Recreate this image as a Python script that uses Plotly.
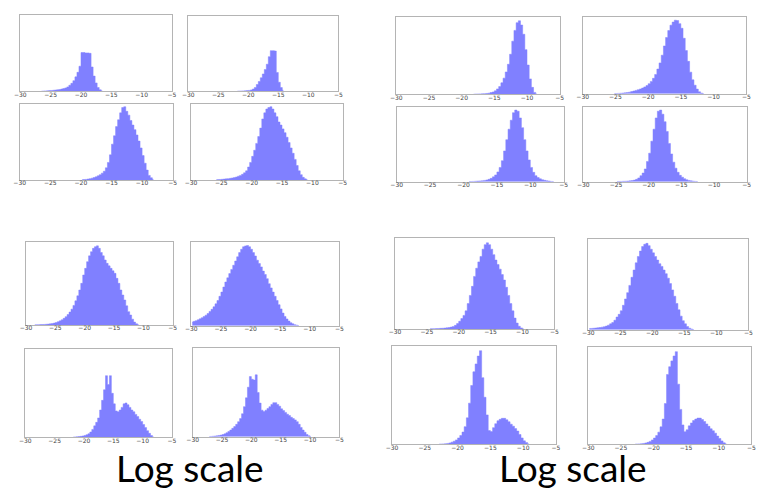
import plotly.graph_objects as go

W, H = 763, 490
tick_values = [-30, -25, -20, -15, -10, -5]
title_text = "Log scale"
bin_width = 1 / 3

# heights (fraction of panel height) of consecutive histogram bins, and left edge of first bin
p1_start = -26.67
p1_values = [.002,.003,.005,.007,.009,.011,.014,.017,.02,.024,.03,.036,.045,.058,.08,.105,.14,.19,.25,.33,.51,.51,.505,.505,.50,.32,.2,.11,.05,.02,.006]
p2_start = -22
p2_values = [.002,.003,.004,.005,.007,.009,.012,.018,.03,.05,.09,.13,.18,.23,.29,.36,.46,.54,.54,.535,.25,.12,.05,.015]
p3_start = -20
p3_values = [.003,.005,.008,.012,.017,.024,.032,.042,.055,.07,.09,.115,.16,.23,.33,.47,.58,.70,.79,.88,.95,.96,.90,.85,.78,.72,.66,.59,.51,.42,.32,.22,.13,.06,.03,.01]
p4_start = -26
p4_values = [.003,.005,.007,.009,.012,.015,.018,.022,.027,.033,.04,.05,.06,.075,.095,.12,.17,.23,.31,.39,.48,.57,.68,.80,.88,.93,.95,.96,.93,.88,.83,.76,.72,.67,.62,.56,.49,.42,.35,.27,.19,.12,.07,.035,.015,.005]
p5_start = -18.33
p5_values = [.002,.003,.004,.005,.006,.008,.011,.015,.022,.03,.045,.07,.10,.15,.21,.29,.39,.52,.69,.83,.93,.955,.90,.78,.58,.38,.2,.09,.025,.005]
p6_start = -25.33
p6_values = [.002,.003,.004,.006,.008,.011,.015,.02,.027,.035,.043,.052,.062,.074,.088,.105,.13,.16,.2,.25,.32,.4,.5,.62,.73,.82,.89,.93,.955,.95,.91,.85,.72,.56,.42,.28,.18,.11,.06,.025,.008,.002]
p7_start = -19.33
p7_values = [.002,.003,.004,.006,.008,.01,.013,.017,.023,.032,.045,.065,.09,.13,.19,.28,.41,.56,.7,.82,.92,.955,.94,.85,.72,.56,.41,.29,.19,.125,.08,.055,.038,.026,.018,.012,.008,.004,.002]
p8_start = -25
p8_values = [.002,.003,.004,.005,.006,.008,.011,.015,.021,.032,.05,.08,.115,.17,.27,.38,.54,.7,.85,.94,.955,.9,.8,.67,.51,.37,.26,.18,.125,.085,.06,.04,.025,.017,.011,.007,.004,.002]
p9_start = -28.67
p9_values = [.002,.003,.004,.005,.006,.007,.009,.011,.014,.018,.023,.03,.04,.05,.063,.08,.1,.125,.155,.19,.235,.29,.35,.42,.5,.6,.68,.76,.83,.88,.92,.94,.95,.92,.87,.83,.78,.74,.71,.68,.65,.62,.56,.5,.42,.36,.3,.23,.16,.12,.07,.035,.015,.005]
p10_start = -30
p10_values = [.045,.052,.06,.07,.082,.095,.11,.125,.145,.17,.195,.225,.26,.3,.35,.4,.46,.52,.57,.62,.67,.72,.77,.82,.87,.91,.94,.95,.955,.94,.91,.87,.83,.78,.74,.7,.65,.61,.56,.5,.45,.4,.35,.3,.25,.2,.15,.11,.08,.055,.035,.022,.012,.006,.002]
p11_start = -22
p11_values = [.003,.004,.006,.008,.011,.015,.021,.029,.04,.06,.09,.13,.17,.22,.31,.42,.54,.70,.60,.70,.5,.38,.3,.29,.31,.34,.38,.39,.37,.34,.31,.29,.26,.235,.205,.18,.145,.11,.075,.045,.02,.007]
p12_start = -27.33
p12_values = [.002,.003,.005,.007,.01,.014,.018,.024,.032,.045,.06,.075,.095,.115,.14,.17,.205,.26,.34,.44,.56,.68,.65,.64,.70,.5,.38,.3,.285,.3,.32,.34,.365,.385,.385,.365,.345,.315,.295,.275,.255,.24,.22,.205,.19,.17,.14,.105,.075,.05,.025,.01,.003]
p13_start = -24.67
p13_values = [.002,.003,.004,.005,.006,.007,.008,.01,.013,.016,.021,.028,.04,.06,.085,.115,.15,.2,.28,.37,.47,.58,.67,.74,.8,.88,.93,.95,.93,.88,.82,.76,.71,.66,.6,.54,.46,.37,.28,.2,.12,.065,.03,.012,.004]
p14_start = -30
p14_values = [.012,.014,.016,.018,.021,.024,.028,.033,.04,.05,.065,.08,.105,.14,.17,.21,.27,.34,.41,.49,.58,.66,.74,.81,.87,.92,.945,.955,.93,.89,.85,.81,.77,.73,.70,.66,.62,.57,.51,.44,.37,.29,.22,.15,.10,.065,.035,.017,.007,.002]
p15_start = -23
p15_values = [.002,.003,.004,.006,.009,.014,.022,.032,.045,.065,.09,.125,.18,.27,.42,.6,.74,.82,.9,.955,.68,.48,.3,.14,.13,.17,.21,.24,.255,.265,.265,.25,.23,.205,.185,.16,.135,.1,.065,.035,.018,.006]
p16_start = -23
p16_values = [.002,.003,.004,.006,.009,.014,.02,.03,.045,.065,.09,.125,.18,.26,.42,.72,.8,.86,.91,.955,.62,.36,.2,.13,.15,.19,.22,.245,.26,.27,.27,.255,.235,.21,.185,.16,.14,.115,.085,.06,.035,.015,.005]

panels = [
    (p1_start, p1_values, (20.3, 172, 15.3, 91.3)),
    (p2_start, p2_values, (188.3, 338.3, 16, 91.3)),
    (p3_start, p3_values, (19.7, 172.7, 103.7, 180)),
    (p4_start, p4_values, (191, 342.7, 103.7, 180)),
    (p5_start, p5_values, (396.3, 559.7, 17.3, 94.3)),
    (p6_start, p6_values, (582.7, 746.3, 16.7, 93.7)),
    (p7_start, p7_values, (396.7, 563.7, 106.7, 181.7)),
    (p8_start, p8_values, (583.3, 746.7, 106.7, 181.7)),
    (p9_start, p9_values, (26, 172.7, 241.7, 325)),
    (p10_start, p10_values, (191.3, 339.3, 241.7, 325.7)),
    (p11_start, p11_values, (25.3, 172, 349.3, 437.3)),
    (p12_start, p12_values, (192.7, 339.3, 348.3, 436.7)),
    (p13_start, p13_values, (395, 554.3, 238.3, 329)),
    (p14_start, p14_values, (588.3, 748.3, 239.3, 329.7)),
    (p15_start, p15_values, (392, 556, 346.3, 444.3)),
    (p16_start, p16_values, (588.3, 751.3, 347.3, 444.3)),
]

fig = go.Figure()
layout = {}
for n, (start, values, (x0, x1, y0, y1)) in enumerate(panels, 1):
    k0 = round((start + 30) * 3)
    xs = [-30 + (k0 + i + 0.5) * bin_width for i in range(len(values))]
    sfx = "" if n == 1 else str(n)
    fig.add_trace(go.Scatter(x=xs, y=values, xaxis=f"x{sfx}", yaxis=f"y{sfx}", mode="lines",
                             line=dict(shape="hvh", width=0.5, color="#8080ff"),
                             fill="tozeroy", fillcolor="#8080ff",
                             showlegend=False, hoverinfo="skip"))
    layout[f"xaxis{sfx}"] = dict(domain=[x0 / W, x1 / W], range=[-30, -5], anchor=f"y{sfx}", automargin=False,
                                 tickmode="array", tickvals=tick_values, ticks="", showgrid=False, zeroline=False,
                                 showline=True, mirror=True, linecolor="#b4b4b4", linewidth=1,
                                 ticklabelstandoff=-3,
                                 tickfont=dict(family="DejaVu Sans", size=6, color="#444444"))
    layout[f"yaxis{sfx}"] = dict(domain=[1 - y1 / H, 1 - y0 / H], range=[0, 1], anchor=f"x{sfx}", automargin=False,
                                 showticklabels=False, ticks="", showgrid=False, zeroline=False,
                                 showline=True, mirror=True, linecolor="#b4b4b4", linewidth=1)

annotations = [
    dict(text=title_text, x=190 / W, y=1 - 467 / H, xref="paper", yref="paper", xanchor="center", yanchor="middle",
         showarrow=False, font=dict(family="Lato", size=37, color="#000000")),
    dict(text=title_text, x=572.5 / W, y=1 - 467 / H, xref="paper", yref="paper", xanchor="center", yanchor="middle",
         showarrow=False, font=dict(family="Lato", size=37, color="#000000")),
]

fig.update_layout(width=W, height=H, margin=dict(l=0, r=0, t=0, b=0), paper_bgcolor="white", plot_bgcolor="white",
                  annotations=annotations, **layout)
fig.write_html("out.html", config={"displayModeBar": False},
               post_script="document.body.style.margin='0';document.documentElement.style.overflow='hidden';")
